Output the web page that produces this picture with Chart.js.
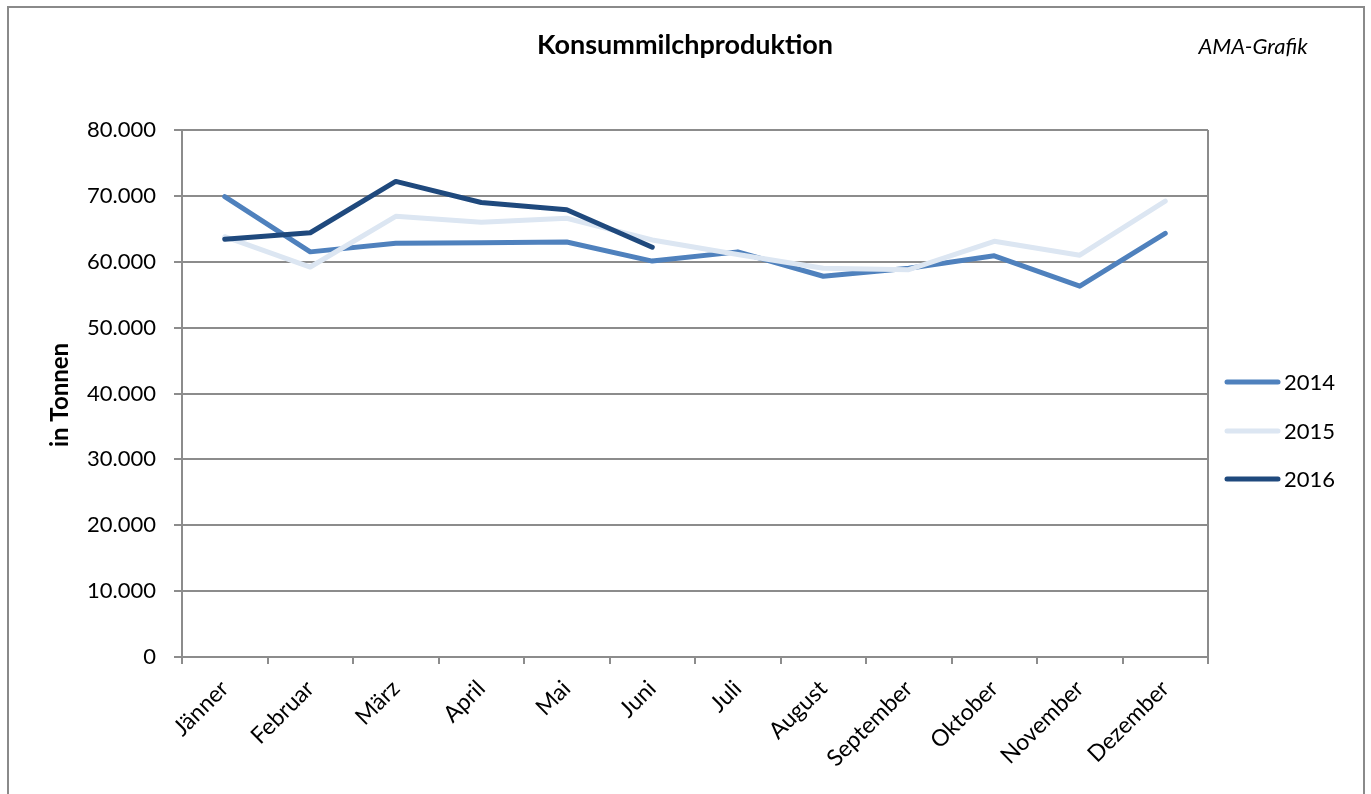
<!DOCTYPE html>
<html><head><meta charset="utf-8">
<script src="https://cdn.jsdelivr.net/npm/chart.js@4.4.1/dist/chart.umd.min.js"></script>
<style>html,body{margin:0;padding:0;background:#fff}#wrap{width:1371px;height:794px;position:relative}</style>
</head><body><div id="wrap"><canvas id="c" width="1371" height="794"></canvas></div>
<script>
const categories = ["Jänner","Februar","März","April","Mai","Juni","Juli","August","September","Oktober","November","Dezember"];
const seriesNames = ["2014","2015","2016"];
const values2014 = [69900,61500,62800,62900,63000,60100,61500,57800,59000,60900,56300,64300];
const values2015 = [63800,59200,66900,66000,66600,63300,61100,59000,58800,63100,61000,69200];
const values2016 = [63400,64400,72200,69000,67900,62200];
const yTicks = [0,10000,20000,30000,40000,50000,60000,70000,80000];
const titleText = "Konsummilchproduktion";
const sourceText = "AMA-Grafik";
const yTitleText = "in Tonnen";

const FONT = "Lato, 'Open Sans', sans-serif";
const colors = ["#4F81BD","#DCE6F2","#1F497D"];

const deco = {
  id:'deco',
  afterDraw(chart){
    const ctx = chart.ctx;
    ctx.save();
    ctx.strokeStyle = "#8a8a8a"; ctx.lineWidth = 2;
    ctx.strokeRect(8,7,1356,800);
    const ca = chart.chartArea;
    ctx.strokeStyle = "#8c8c8c"; ctx.lineWidth = 2;
    ctx.beginPath(); ctx.moveTo(ca.right, ca.top); ctx.lineTo(ca.right, ca.bottom); ctx.stroke();
    ctx.fillStyle = "#000"; ctx.textBaseline = "middle";
    ctx.font = "bold 27px " + FONT; ctx.textAlign = "center";
    ctx.fillText(titleText, 685, 45);
    ctx.font = "italic 22px " + FONT;
    ctx.fillText(sourceText, 1253, 47);
    ctx.save();
    ctx.translate(60, 395); ctx.rotate(-Math.PI/2);
    ctx.font = "bold 24px " + FONT;
    ctx.fillText(yTitleText, 0, 0);
    ctx.restore();
    const ys = [382, 431, 479];
    chart.data.datasets.forEach((ds,i)=>{
      ctx.strokeStyle = ds.borderColor; ctx.lineWidth = 5; ctx.lineCap = "round";
      ctx.beginPath(); ctx.moveTo(1227, ys[i]); ctx.lineTo(1278, ys[i]); ctx.stroke();
      ctx.fillStyle = "#000"; ctx.font = "22px " + FONT; ctx.textAlign = "left";
      ctx.fillText(ds.label, 1284, ys[i]+1);
    });
    ctx.restore();
  }
};

const mk = (label, data, i, order) => ({
  label, data, borderColor: colors[i], backgroundColor: colors[i],
  borderWidth: 5, pointRadius: 0, tension: 0, borderCapStyle: 'round', borderJoinStyle: 'round',
  order
});

new Chart(document.getElementById('c'), {
  type: 'line',
  data: {
    labels: categories,
    datasets: [mk(seriesNames[0], values2014, 0, 2), mk(seriesNames[1], values2015, 1, 1), mk(seriesNames[2], values2016, 2, 0)]
  },
  options: {
    responsive: false, animation: false,
    layout: { padding: { left: 0, top: 130, right: 163, bottom: 0 } },
    plugins: { legend: { display: false }, title: { display: false }, tooltip: { enabled: false } },
    scales: {
      x: {
        offset: true,
        grid: { offset: true, drawOnChartArea: false, drawTicks: true, tickLength: 7, color: "#8c8c8c", lineWidth: 2 },
        border: { color: "#8c8c8c", width: 2 },
        ticks: { color: "#000", font: { family: FONT, size: 23 }, maxRotation: 45, minRotation: 45, padding: 11, autoSkip: false },
        afterFit: s => { s.height = 137; }
      },
      y: {
        min: 0, max: 80000,
        afterBuildTicks: s => { s.ticks = yTicks.map(v => ({ value: v })); },
        grid: { color: "#8c8c8c", lineWidth: 2, tickLength: 8, drawTicks: true },
        border: { color: "#8c8c8c", width: 2 },
        ticks: { color: "#000", font: { family: FONT, size: 22 }, padding: 18,
          callback: v => v === 0 ? "0" : v.toLocaleString('de-DE', {minimumFractionDigits:0}).replace(/,/g,'.') },
        afterFit: s => { s.width = 182; }
      }
    }
  },
  plugins: [deco]
});
</script></body></html>
